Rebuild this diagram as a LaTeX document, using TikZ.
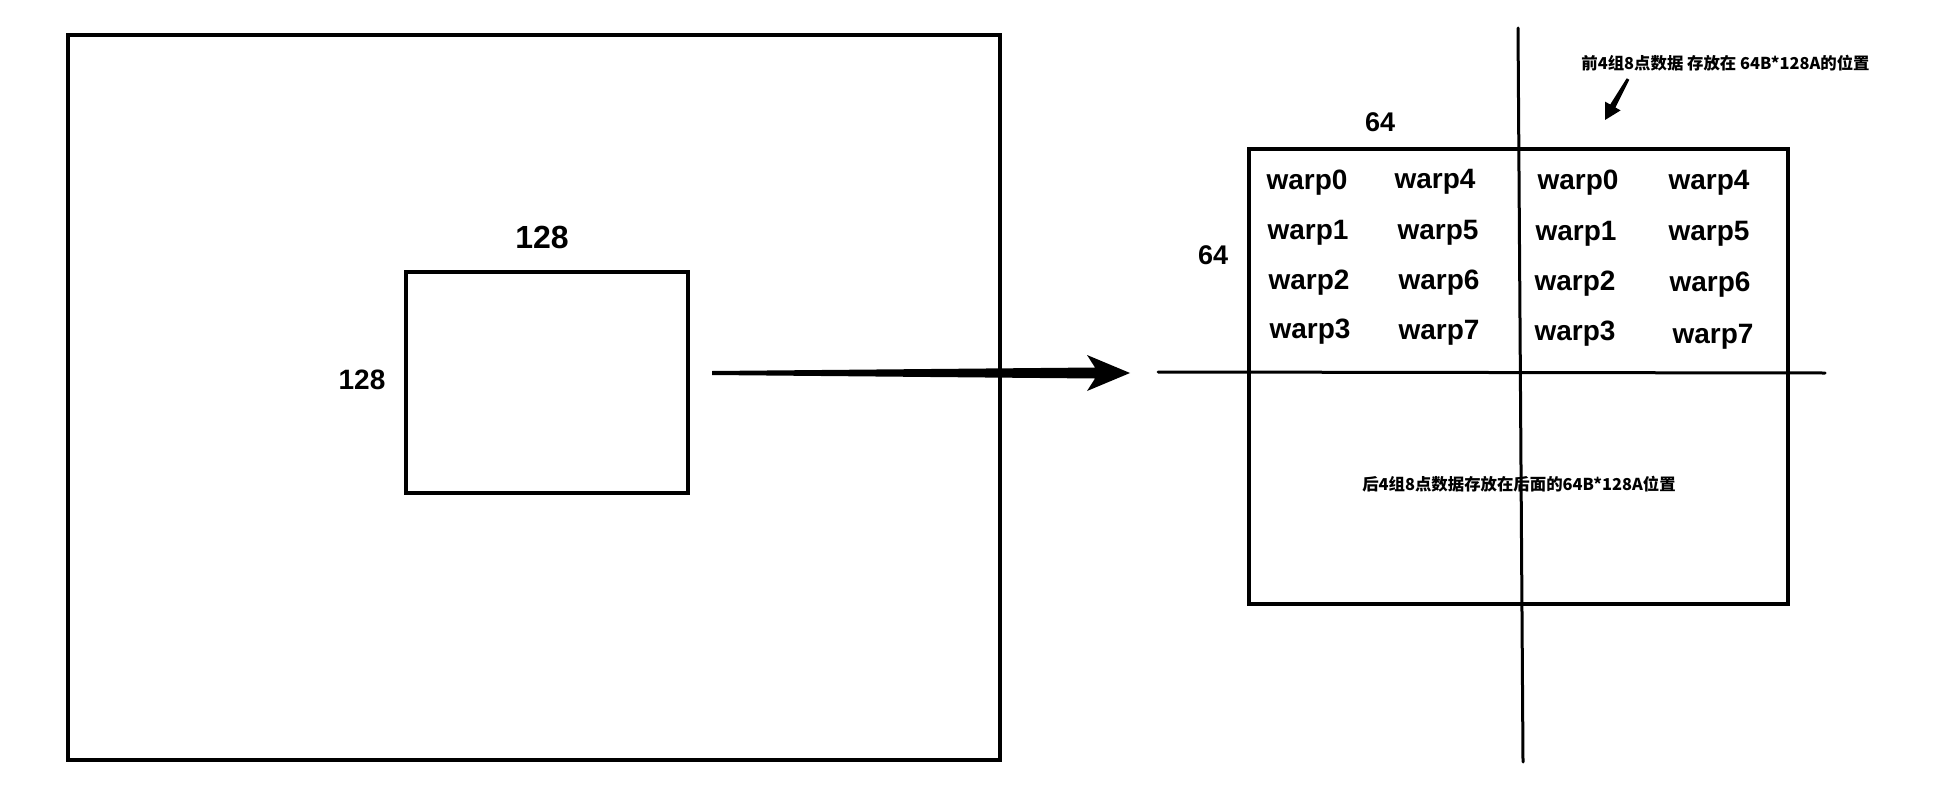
\documentclass[tikz,border=0pt]{standalone}
\usepackage{fontspec}
\setmainfont{Liberation Sans}
\newfontfamily\cjk{Noto Sans CJK SC}
\usetikzlibrary{calc}
\begin{document}
\begin{tikzpicture}[x=0.5pt,y=-0.5pt,
  box/.style={draw=black,line width=1.75pt,inner sep=0pt,outer sep=0pt},
  crossline/.style={draw=black,line width=1.5pt,line cap=round},
  warp/.style={font=\fontsize{14}{14}\selectfont\bfseries,inner sep=0pt},
  dim/.style={font=\fontsize{#1}{#1}\selectfont\bfseries,inner sep=0pt},
  note/.style={font=\cjk\fontsize{8.2}{8.2}\selectfont\bfseries,inner sep=0pt}]
\useasboundingbox (0,0) rectangle (1952,792);
\fill[white] (0,0) rectangle (1952,792);

% left part
\node[box,minimum width=466pt,minimum height=362.5pt] (big) at (534,397.5) {};
\node[box,minimum width=141pt,minimum height=110.5pt] (tile) at (547,382.5) {};
\node[dim=16] (wtop) at (542,237) {128};
\node[dim=14] (hleft) at (362,380) {128};

% big arrow
\coordinate (atail) at (712,373);
\coordinate (ahead) at (1130,373);
\fill[black] ($(atail)+(0,-2)$) -- ($(ahead)+(-35,-5.5)$) -- ($(ahead)+(-43,-18)$)
  -- (ahead) -- ($(ahead)+(-43,18)$) -- ($(ahead)+(-35,5.5)$) -- ($(atail)+(0,2)$) -- cycle;

% right part
\node[box,minimum width=269.5pt,minimum height=227.5pt] (smem) at (1518.5,376.5) {};
\coordinate (vt) at (1518,28);
\coordinate (vb) at (1523,762);
\coordinate (hl) at (1158,372);
\coordinate (hr) at (1825,373);
\draw[crossline] (vt) -- (vb);
\draw[crossline] (hl) -- (hr);

\node[dim=13.5] (wsm) at (1380,122) {64};
\node[dim=13.5] (hsm) at (1213,255) {64};

\node[warp] (a0) at (1307,183) {warp0};
\node[warp] (a1) at (1308,233) {warp1};
\node[warp] (a2) at (1309,283) {warp2};
\node[warp] (a3) at (1310,332) {warp3};
\node[warp] (a4) at (1435,182) {warp4};
\node[warp] (a5) at (1438,233) {warp5};
\node[warp] (a6) at (1439,283) {warp6};
\node[warp] (a7) at (1439,333) {warp7};

\node[warp] (b0) at (1578,183) {warp0};
\node[warp] (b1) at (1576,234) {warp1};
\node[warp] (b2) at (1575,284) {warp2};
\node[warp] (b3) at (1575,334) {warp3};
\node[warp] (b4) at (1709,183) {warp4};
\node[warp] (b5) at (1709,234) {warp5};
\node[warp] (b6) at (1710,285) {warp6};
\node[warp] (b7) at (1713,337) {warp7};

\node[note] (n1) at (1725.5,63) {前4组8点数据 存放在 64B*128A的位置};
\node[note] (n2) at (1519,484) {后4组8点数据存放在后面的64B*128A位置};

% small arrow
\coordinate (stail) at (1628,79);
\coordinate (stip) at (1605,120);
\fill[black] (1629.3,79.7) -- (1615.4,107.5) -- (1620.6,110.4) -- (stip)
  -- (1605,101.6) -- (1610.2,104.5) -- (1626.7,78.3) -- cycle;
\end{tikzpicture}
\end{document}
